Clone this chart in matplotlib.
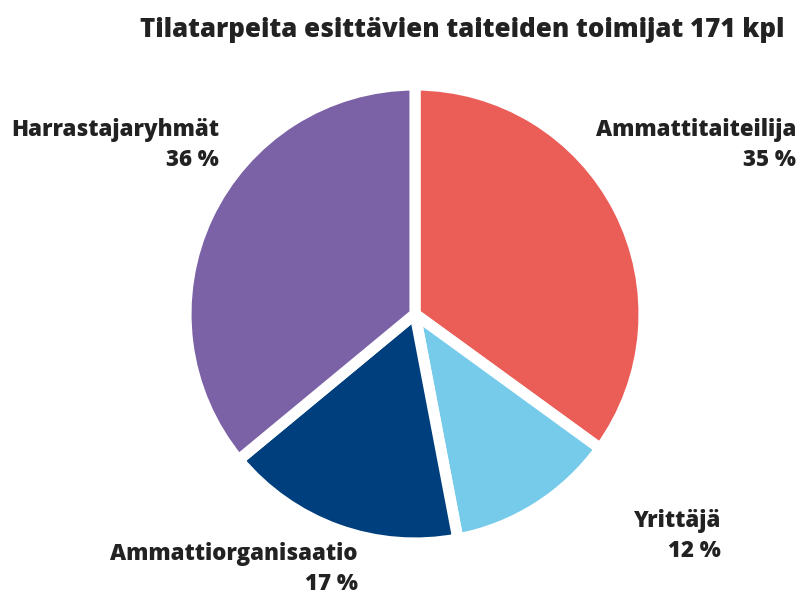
import matplotlib.pyplot as plt

plt.rcParams['font.family'] = ['Open Sans', 'DejaVu Sans']

title = "Tilatarpeita esittävien taiteiden toimijat 171 kpl"
labels = ["Ammattitaiteilija", "Yrittäjä", "Ammattiorganisaatio", "Harrastajaryhmät"]
shares = [35, 12, 17, 36]
colors = ["#EB5E58", "#76CBEB", "#003F7D", "#7B62A6"]

W, H = 802, 596
fig = plt.figure(figsize=(W / 100, H / 100), dpi=100)

# pie centre and radius in pixels
cx, cy, r = 415, 314, 229
ax = fig.add_axes([(cx - r) / W, (H - cy - r) / H, 2 * r / W, 2 * r / H])
ax.pie(shares, colors=colors, startangle=90, counterclock=False,
       wedgeprops=dict(edgecolor="white", linewidth=8))
ax.set_xlim(-1, 1)
ax.set_ylim(-1, 1)
ax.set_aspect("equal")
ax.axis("off")

fig.text(785 / W, 1 - 30 / H, title, ha="right", va="center",
         fontsize=18.6, fontweight=800, color="#222222")

# label anchors (right edge x, centre y) in pixels
label_pos = [(796, 145), (721, 536), (358, 569), (219, 145)]
for name, val, (x, y) in zip(labels, shares, label_pos):
    fig.text(x / W, 1 - y / H, f"{name}\n{val} %", ha="right", va="center",
             multialignment="right", fontsize=16, fontweight=800,
             color="#222222", linespacing=1.3)

fig.savefig("out.png", dpi=100)
